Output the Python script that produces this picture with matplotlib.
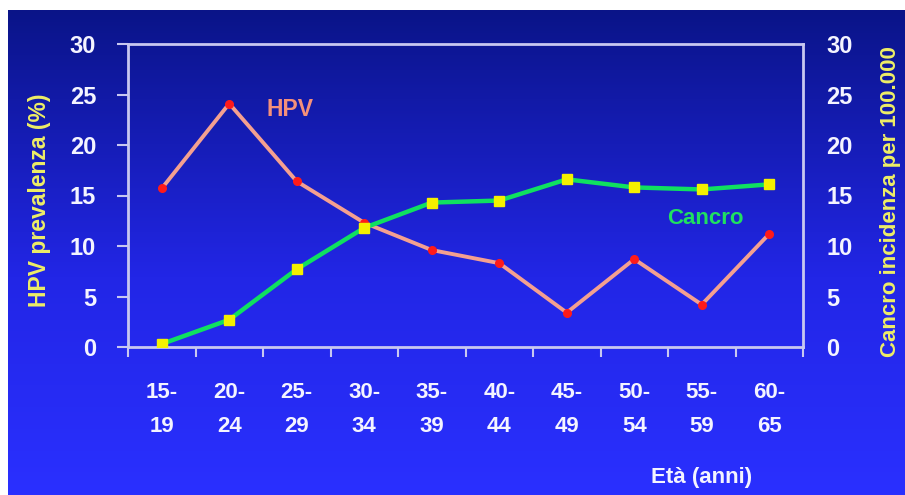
"""HPV prevalence vs cervical cancer incidence by age group (dual axis)."""
import matplotlib.pyplot as plt
import numpy as np
from matplotlib.colors import LinearSegmentedColormap

AGE_TOP = ["15-", "20-", "25-", "30-", "35-", "40-", "45-", "50-", "55-", "60-"]
AGE_BOT = ["19", "24", "29", "34", "39", "44", "49", "54", "59", "65"]
HPV = [15.7, 24.1, 16.4, 12.3, 9.6, 8.3, 3.4, 8.7, 4.2, 11.2]
CANCRO = [0.3, 2.7, 7.7, 11.8, 14.3, 14.5, 16.6, 15.8, 15.6, 16.1]
YTICKS = [0, 5, 10, 15, 20, 25, 30]

FONT = "Liberation Sans"
WHITE = "#f4f4ff"
YELLOW = "#eeee66"
SPINE = "#c8c8f0"

W, H = 905, 495
fig = plt.figure(figsize=(W / 100, H / 100), dpi=100)
fig.patch.set_facecolor("white")

# gradient background panel
bg = fig.add_axes([8 / W, 0, 1 - 8 / W, 1 - 10 / H])
cmap = LinearSegmentedColormap.from_list(
    "bg", [(0, "#0a1488"), (0.55, "#2226e6"), (1, "#2a30ff")])
grad = np.linspace(0, 1, 256).reshape(-1, 1)
bg.imshow(grad, aspect="auto", cmap=cmap, extent=[0, 1, 1, 0])
bg.set_axis_off()

ax = fig.add_axes([128 / W, 1 - 347 / H, (803 - 128) / W, (347 - 44) / H])
ax.patch.set_alpha(0)
x = np.arange(len(HPV))

ax.plot(x, HPV, color="#f4a090", lw=2.8, zorder=3)
ax.plot(x, HPV, ls="none", marker="o", ms=5.5, color="#ff1a1a", zorder=4)
ax.plot(x, CANCRO, color="#10e060", lw=3.2, zorder=3)
ax.plot(x, CANCRO, ls="none", marker="s", ms=6.5, color="#f4f000", zorder=4)

ax.set_xlim(-0.5, len(HPV) - 0.5)
ax.set_ylim(0, 30)
for s in ax.spines.values():
    s.set_color(SPINE)
    s.set_linewidth(2)

ax.set_yticks(YTICKS)
ax.set_yticklabels([str(v) for v in YTICKS], fontsize=17, fontweight="bold",
                   color=WHITE, family=FONT)
ax.tick_params(axis="y", which="both", direction="out", length=8, width=1.5,
               color=SPINE, pad=15, left=True, right=True,
               labelleft=True, labelright=False)

# x: tick marks at boundaries, labels at centres
ax.set_xticks(np.arange(-0.5, len(HPV)), minor=True)
ax.set_xticks(x)
ax.set_xticklabels([f"{a}\n{b}" for a, b in zip(AGE_TOP, AGE_BOT)],
                   fontsize=16, fontweight="bold", color=WHITE, family=FONT,
                   linespacing=1.85)
ax.tick_params(axis="x", which="major", length=0, pad=25)
ax.tick_params(axis="x", which="minor", direction="out", length=7, width=1.5,
               color=SPINE)

ax2 = ax.twinx()
ax2.set_ylim(0, 30)
ax2.set_yticks(YTICKS)
ax2.set_yticklabels([str(v) for v in YTICKS], fontsize=17, fontweight="bold",
                    color=WHITE, family=FONT)
ax2.tick_params(axis="y", direction="out", length=0, pad=17)
for s in ax2.spines.values():
    s.set_visible(False)

fig.text(40 / W, 1 - 200 / H, "HPV prevalenza (%)", rotation=90, ha="center",
         va="center", fontsize=16.5, fontweight="bold", color=YELLOW, family=FONT)
fig.text(890 / W, 1 - 202 / H, "Cancro incidenza per 100.000", rotation=90,
         ha="center", va="center", fontsize=16, fontweight="bold",
         color=YELLOW, family=FONT)
fig.text(702 / W, 1 - 478 / H, "Età (anni)", ha="center", va="center",
         fontsize=16, fontweight="bold", color=WHITE, family=FONT)

ax.text(1.9, 23.5, "HPV", fontsize=16.5, fontweight="bold", color="#f4907a",
        family=FONT, ha="center", va="center")
ax.text(8.05, 12.7, "Cancro", fontsize=16, fontweight="bold", color="#20e060",
        family=FONT, ha="center", va="center")

fig.savefig("out.png", dpi=100)
